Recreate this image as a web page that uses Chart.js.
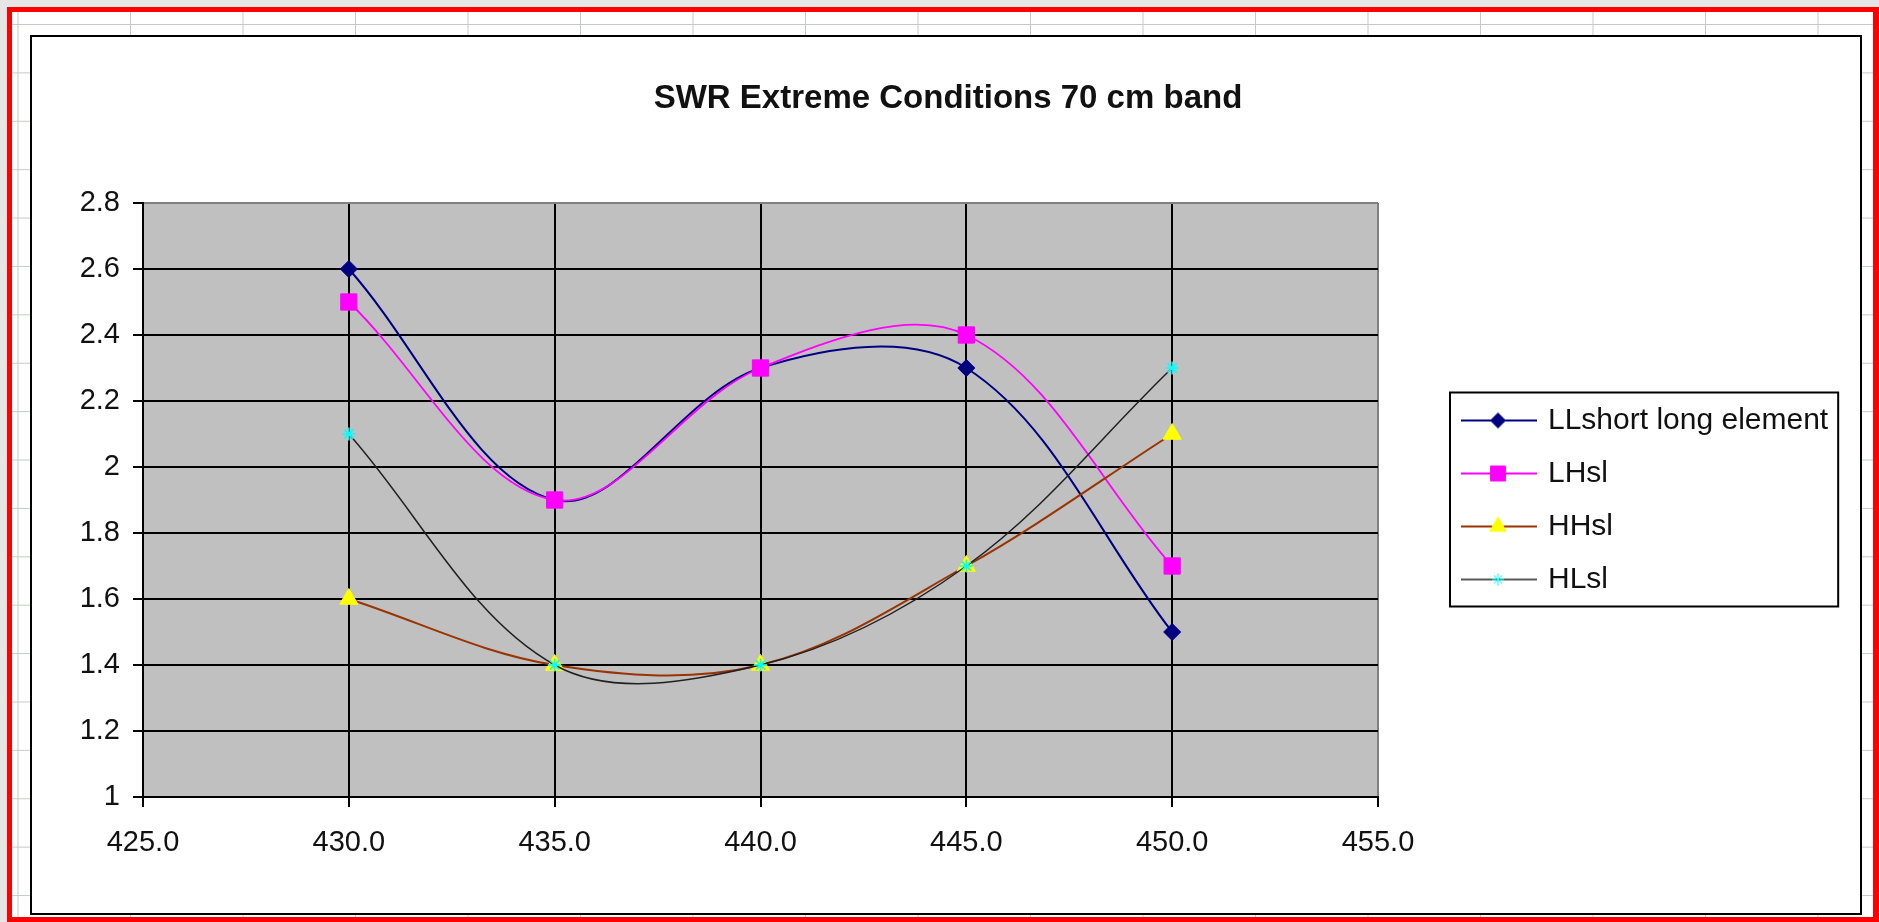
<!DOCTYPE html>
<html lang="en">
<head>
<meta charset="utf-8">
<title>SWR Extreme Conditions 70 cm band</title>
<script src="https://cdn.jsdelivr.net/npm/chart.js@4.4.0/dist/chart.umd.min.js"></script>
<style>
  html, body { margin: 0; padding: 0; }
  body { width: 1879px; height: 922px; background: #e6e6e6; position: relative; overflow: hidden; }
  #sheet {
    position: absolute; left: 7px; top: 7px; width: 1872px; height: 915px;
    box-sizing: border-box; border: 5px solid #ff0000; border-right-width: 6px;
    background-color: #fff;
    background-image: linear-gradient(to right, #c4cbc4 1px, transparent 1px),
                      linear-gradient(to bottom, #c4cbc4 1px, transparent 1px);
    background-size: 112.5px 48.4px;
    background-position: 5.5px 12px;
  }
  #chartBox {
    position: absolute; left: 30px; top: 35px; width: 1832px; height: 880px;
    box-sizing: border-box; border: 2px solid #000; background: #fff;
  }
</style>
</head>
<body>
<div id="sheet"></div>
<div id="chartBox"><canvas id="swrChart"></canvas></div>
<script>
  // values
  const freqMHz = [430, 435, 440, 445, 450];
  const llShortLong = [2.6, 1.9, 2.3, 2.3, 1.5];
  const lhSl = [2.5, 1.9, 2.3, 2.4, 1.7];
  const hhSl = [1.6, 1.4, 1.4, 1.7, 2.1];
  const hlSl = [2.1, 1.4, 1.4, 1.7, 2.3];
  const seriesNames = ["LLshort long element", "LHsl", "HHsl", "HLsl"];
  const xRange = [425, 455];
  const yRange = [1, 2.8];
  const xStep = 5;
  const yStep = 0.2;

  Chart.defaults.font.family = '"Liberation Sans", Arial, sans-serif';

  // canvas is 1828 x 876, plot area wanted at these spots
  const W = 1828;
  const plot = { left: 111, right: 1346, top: 166, bottom: 760, height: 876 };
  const legendFont = 30, legendPad = 23, iconBox = 132;

  const mctx = document.createElement("canvas").getContext("2d");
  mctx.font = legendFont + 'px "Liberation Sans", Arial, sans-serif';
  const textW = Math.max(...seriesNames.map(n => mctx.measureText(n).width));
  const legendW = legendPad + iconBox + legendFont / 2 + textW + 10;
  const padRight = Math.max(0, W - plot.right - legendW);
  const padLeft = 4 + padRight; // keeps the title centred on the chart box

  const toPoints = vals => freqMHz.map((f, i) => ({ x: f, y: vals[i] }));

  function makeIcon(lineColor, lineWidth, pointStyle, radius, fill, stroke) {
    const c = document.createElement("canvas");
    c.width = 140; c.height = 30;
    const g = c.getContext("2d");
    g.strokeStyle = lineColor; g.lineWidth = lineWidth;
    g.beginPath(); g.moveTo(64, 15); g.lineTo(140, 15); g.stroke();
    g.fillStyle = fill; g.strokeStyle = stroke; g.lineWidth = 1;
    if (Chart.helpers && Chart.helpers.drawPoint) {
      Chart.helpers.drawPoint(g, { pointStyle: pointStyle, radius: radius, rotation: 0, borderWidth: 1.5 }, 101, 15);
    } else {
      g.beginPath(); g.arc(101, 15, radius * 0.8, 0, Math.PI * 2); g.fill();
    }
    return c;
  }

  const legendIcons = [
    makeIcon("#000080", 2, "rectRot", 7.5, "#000080", "#000080"),
    makeIcon("#ff00ff", 2, "rect", 10.5, "#ff00ff", "#ff00ff"),
    makeIcon("#993300", 2, "triangle", 9.5, "#ffff00", "#ffff00"),
    makeIcon("#202020", 1.5, "star", 6, "#00ffff", "#00ffff")
  ];

  const chartDecor = {
    id: "chartDecor",
    beforeDraw(chart) {
      const { ctx, chartArea: a } = chart;
      ctx.save();
      ctx.fillStyle = "#c0c0c0";
      ctx.fillRect(a.left, a.top, a.right - a.left, a.bottom - a.top);
      ctx.restore();
    },
    afterDraw(chart) {
      const boxes = chart.legend && chart.legend.legendHitBoxes;
      if (!boxes || !boxes.length) return;
      const first = boxes[0], last = boxes[boxes.length - 1];
      const textRight = Math.max(...boxes.map(b => b.left + b.width));
      const left = first.left + 49;
      const top = first.top - 13;
      const right = textRight + 10;
      const bottom = last.top + last.height + 12;
      const ctx = chart.ctx;
      ctx.save();
      ctx.strokeStyle = "#000";
      ctx.lineWidth = 2;
      ctx.strokeRect(left, top, right - left, bottom - top);
      ctx.restore();
    }
  };

  const ctx = document.getElementById("swrChart").getContext("2d");
  const swrChart = new Chart(ctx, {
    type: "line",
    data: {
      datasets: [
        {
          label: seriesNames[0], data: toPoints(llShortLong), order: 4,
          borderColor: "#000080", borderWidth: 2, tension: 0.35,
          pointStyle: "rectRot", pointRadius: 8.5,
          pointBackgroundColor: "#000080", pointBorderColor: "#000080", pointBorderWidth: 1
        },
        {
          label: seriesNames[1], data: toPoints(lhSl), order: 3,
          borderColor: "#ff00ff", borderWidth: 1.8, tension: 0.35,
          pointStyle: "rect", pointRadius: 11.5,
          pointBackgroundColor: "#ff00ff", pointBorderColor: "#ff00ff", pointBorderWidth: 1
        },
        {
          label: seriesNames[2], data: toPoints(hhSl), order: 2,
          borderColor: "#993300", borderWidth: 2, tension: 0.35,
          pointStyle: "triangle", pointRadius: 10.5,
          pointBackgroundColor: "#ffff00", pointBorderColor: "#ffff00", pointBorderWidth: 1
        },
        {
          label: seriesNames[3], data: toPoints(hlSl), order: 1,
          borderColor: "#202020", borderWidth: 1.5, tension: 0.35,
          pointStyle: "star", pointRadius: 6.5,
          pointBackgroundColor: "#00ffff", pointBorderColor: "#00ffff", pointBorderWidth: 1.5
        }
      ]
    },
    options: {
      responsive: true,
      maintainAspectRatio: false,
      animation: false,
      events: [],
      layout: { padding: { left: padLeft, right: padRight, top: 0, bottom: 0 } },
      plugins: {
        tooltip: { enabled: false },
        title: {
          display: true,
          text: "SWR Extreme Conditions 70 cm band",
          color: "#111",
          font: { size: 33, weight: "bold" },
          padding: { top: 42, bottom: 84.4 }
        },
        legend: {
          position: "right",
          maxWidth: 900,
          // blank title only nudges the items down to the plot's middle
          title: { display: true, text: " ", font: { size: 10 }, padding: { top: 38, bottom: 0 } },
          labels: {
            usePointStyle: true,
            pointStyleWidth: iconBox,
            padding: legendPad,
            color: "#111",
            font: { size: legendFont },
            sort: (a, b) => a.datasetIndex - b.datasetIndex,
            generateLabels(chart) {
              const items = Chart.defaults.plugins.legend.labels.generateLabels(chart);
              items.forEach(item => { item.pointStyle = legendIcons[item.datasetIndex]; });
              return items;
            }
          }
        }
      },
      scales: {
        x: {
          type: "linear",
          min: xRange[0], max: xRange[1],
          ticks: {
            stepSize: xStep, color: "#111", font: { size: 29 }, padding: 19, maxRotation: 0,
            callback: v => Number(v).toFixed(1)
          },
          grid: {
            color: c => (c.tick && c.tick.value >= xRange[1]) ? "#808080" : "#000",
            lineWidth: 2, tickLength: 10, tickColor: "#000"
          },
          border: { color: "#000", width: 2 },
          afterFit: s => { s.height = plot.height - plot.bottom; }
        },
        y: {
          min: yRange[0], max: yRange[1],
          ticks: {
            stepSize: yStep, color: "#111", font: { size: 29 }, padding: 13,
            callback: v => String(+Number(v).toFixed(1))
          },
          grid: {
            color: c => (c.tick && c.tick.value >= yRange[1] - 0.01) ? "#808080" : "#000",
            lineWidth: 2, tickLength: 10, tickColor: "#000"
          },
          border: { color: "#000", width: 2 },
          afterFit: s => { s.width = plot.left - padLeft; }
        }
      }
    },
    plugins: [chartDecor]
  });
</script>
</body>
</html>
